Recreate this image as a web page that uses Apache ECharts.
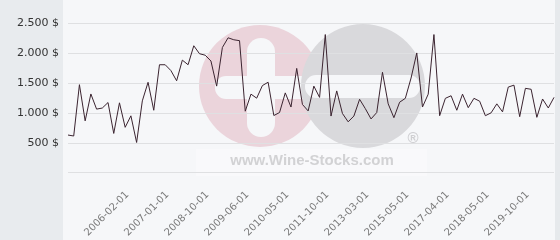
<!DOCTYPE html>
<html>
<head>
<meta charset="utf-8">
<script src="https://cdn.jsdelivr.net/npm/echarts@6/dist/echarts.min.js"></script>
<style>html,body{margin:0;padding:0;background:#f6f7f9}#c{width:560px;height:240px}</style>
</head>
<body>
<div id="c"></div>
<script>
// Price series (USD), one value per sample date
const values = [629,613,1470,866,1315,1062,1080,1172,656,1167,758,950,505,1200,1510,1043,1803,1803,1705,1535,
  1880,1803,2120,1987,1962,1865,1446,2091,2253,2220,2205,1027,1312,1245,1455,1511,955,1005,1333,1097,
  1742,1140,1032,1446,1258,2307,946,1366,989,850,946,1226,1070,898,1005,1677,1150,919,1177,1242,
  1581,2000,1097,1312,2307,952,1242,1285,1043,1312,1086,1242,1194,952,1000,1150,1016,1430,1462,936,
  1409,1393,925,1231,1081,1258];
// Visible date tick labels on the x axis
const tickLabels = ['2006-02-01','2007-01-01','2008-10-01','2009-06-01','2010-05-01','2011-10-01',
  '2013-03-01','2015-05-01','2017-04-01','2018-05-01','2019-10-01'];
const firstTick = 11, tickStep = 7;
// y axis ticks
const yTicks = [0, 500, 1000, 1500, 2000, 2500];

const categories = values.map((v, i) => {
  const k = (i - firstTick) / tickStep;
  return (i >= firstTick && Number.isInteger(k) && k < tickLabels.length) ? tickLabels[k] : String(i);
});
const isTick = i => i >= firstTick && (i - firstTick) % tickStep === 0 && (i - firstTick) / tickStep < tickLabels.length;
const fmt = v => String(v).replace(/\B(?=(\d{3})+(?!\d))/g, '.') + ' $';

const chart = echarts.init(document.getElementById('c'), null, {renderer: 'canvas'});
chart.setOption({
  animation: false,
  backgroundColor: '#f6f7f9',
  textStyle: {fontFamily: 'DejaVu Sans'},
  graphic: [
    {type: 'rect', z: -20, shape: {x: 0, y: 0, width: 63, height: 240}, style: {fill: '#e8ebee'}},
    {type: 'rect', z: -20, shape: {x: 555, y: 0, width: 5, height: 240}, style: {fill: '#e6e9ec'}},
    {type: 'circle', z: -15, shape: {cx: 260, cy: 86, r: 61}, style: {fill: '#ebd4db'}},
    {type: 'rect', z: -14, shape: {x: 247, y: 38, width: 28, height: 99, r: 14}, style: {fill: '#f6f7f9'}},
    {type: 'rect', z: -14, shape: {x: 215, y: 76, width: 100, height: 23, r: 11}, style: {fill: '#f6f7f9'}},
    {type: 'circle', z: -13, shape: {cx: 363, cy: 86, r: 62}, style: {fill: '#d9d9dc'}},
    {type: 'rect', z: -12, shape: {x: 305, y: 75, width: 115, height: 23, r: 11}, style: {fill: '#f6f7f9'}},
    {type: 'text', z: -12, style: {x: 413, y: 139, text: '®', fill: '#cfcfd2', font: 'bold 15px "Liberation Sans"', align: 'center', verticalAlign: 'middle'}},
    {type: 'rect', z: -12, shape: {x: 196, y: 149, width: 231, height: 27}, style: {fill: 'rgba(255,255,255,0.3)'}},
    {type: 'text', z: -12, style: {x: 312, y: 161, text: 'www.Wine-Stocks.com', fill: '#d2d2d4', font: 'bold 15px "Liberation Sans"', align: 'center', verticalAlign: 'middle'}}
  ],
  grid: {left: 68, right: 6, top: 23, bottom: 62, containLabel: false},
  xAxis: {
    type: 'category',
    data: categories,
    boundaryGap: false,
    axisLine: {show: false},
    axisTick: {show: false},
    splitLine: {show: false},
    axisLabel: {
      interval: (i) => isTick(i),
      rotate: 45,
      margin: 17,
      padding: [0, 5, 0, 0],
      fontSize: 10,
      color: '#7a7a7a',
      fontFamily: 'DejaVu Sans'
    }
  },
  yAxis: {
    type: 'value',
    min: yTicks[0],
    max: yTicks[yTicks.length - 1],
    interval: 500,
    axisLine: {show: false},
    axisTick: {show: false},
    splitLine: {lineStyle: {color: '#dfe0e2', width: 1}},
    axisLabel: {
      margin: 9,
      fontSize: 11,
      color: '#333',
      fontFamily: 'DejaVu Sans',
      formatter: v => v === 0 ? '' : fmt(v)
    }
  },
  series: [{
    type: 'line',
    data: values,
    symbol: 'none',
    lineStyle: {color: '#3b2430', width: 1},
    z: 5
  }]
});
</script>
</body>
</html>
